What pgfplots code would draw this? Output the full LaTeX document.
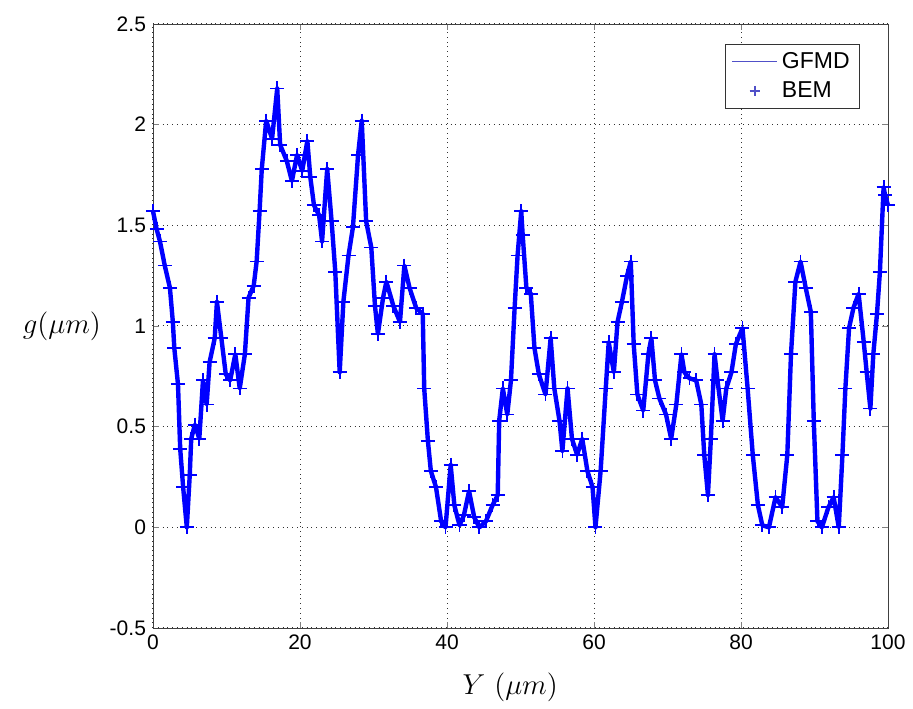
\documentclass[border=0pt]{standalone}
\usepackage{pgfplots}
\pgfplotsset{compat=1.18}
\usepackage{pgfplotstable}
\usepackage{fontspec}
\newfontfamily\arial{Liberation Sans}
\definecolor{legblue}{RGB}{80,80,200}
\pgfplotstableread{
x y
0 1.57
0.5 1.48
0.95 1.42
1.6 1.30
2.3 1.19
2.7 1.02
2.9 0.89
3.4 0.71
3.7 0.39
4.1 0.20
4.6 0.00
5.0 0.26
5.2 0.44
5.7 0.51
6.3 0.44
6.8 0.73
7.3 0.61
7.7 0.82
8.4 0.94
8.7 1.12
9.3 0.94
9.9 0.76
10.5 0.73
11.2 0.86
11.8 0.69
12.5 0.86
13.0 1.14
13.7 1.20
14.1 1.32
14.5 1.57
14.8 1.78
15.4 2.02
16.2 1.93
16.9 2.18
17.3 1.90
18.2 1.82
18.9 1.72
19.6 1.85
20.3 1.77
21.0 1.92
21.4 1.74
21.9 1.60
22.6 1.55
23.0 1.42
23.7 1.78
24.3 1.52
24.8 1.27
25.4 0.77
25.9 1.12
26.6 1.35
27.2 1.49
27.9 1.85
28.4 2.02
29.0 1.52
29.7 1.39
30.2 1.10
30.6 0.96
31.3 1.14
31.75 1.22
32.7 1.10
33.6 1.02
34.2 1.30
34.9 1.19
35.8 1.09
36.7 1.06
36.9 0.69
37.4 0.43
37.8 0.28
38.5 0.20
39.2 0.03
39.8 0.00
40.5 0.31
41.0 0.11
41.7 0.01
42.3 0.06
43.0 0.18
43.7 0.05
44.4 0.00
45.3 0.03
46.2 0.11
46.9 0.16
47.1 0.53
47.6 0.69
48.2 0.56
48.7 0.73
49.2 1.09
49.6 1.35
50.1 1.57
50.3 1.45
50.8 1.19
51.4 1.16
51.9 0.89
52.5 0.76
53.4 0.66
54.1 0.94
54.6 0.69
55.3 0.53
55.7 0.38
56.4 0.69
57.0 0.44
57.7 0.36
58.4 0.44
59.1 0.28
59.8 0.20
60.2 0.00
60.9 0.28
61.6 0.69
62.0 0.92
62.7 0.77
63.2 1.02
63.8 1.12
64.5 1.25
65.0 1.32
65.4 0.91
65.9 0.66
66.7 0.58
67.4 0.86
67.8 0.94
68.3 0.73
68.9 0.64
69.8 0.56
70.5 0.44
71.2 0.61
71.9 0.86
72.3 0.77
73.0 0.74
73.9 0.73
74.6 0.61
75.0 0.36
75.5 0.16
75.9 0.44
76.4 0.86
76.8 0.73
77.5 0.53
78.0 0.69
78.7 0.77
79.3 0.91
80.2 0.99
80.9 0.69
81.6 0.36
82.3 0.11
82.9 0.01
83.8 0.00
84.7 0.15
85.6 0.10
86.3 0.36
86.8 0.86
87.4 1.22
88.1 1.32
88.8 1.19
89.5 1.07
89.9 0.53
90.4 0.03
91.0 0.00
91.9 0.10
92.6 0.15
93.3 0.00
93.8 0.36
94.2 0.69
94.7 0.99
95.3 1.09
96.0 1.16
96.7 0.92
97.1 0.77
97.6 0.59
98.0 0.86
98.5 1.06
98.9 1.27
99.4 1.69
99.6 1.65
100 1.60
}\datatable
\begin{document}
\begin{tikzpicture}
\begin{axis}[
  scale only axis,
  width=367.5pt, height=302pt,
  xmin=0, xmax=100, ymin=-0.5, ymax=2.5,
  xtick={0,20,40,60,80,100},
  xticklabels={0,20,40,60,80,100},
  ytick={-0.5,0,0.5,1,1.5,2,2.5},
  yticklabels={-0.5,0,0.5,1,1.5,2,2.5},
  tick label style={font=\arial\fontsize{10.5}{12}\selectfont, black},
  tick align=inside,
  major tick length=3pt,
  axis line style={black!75},
  grid=major,
  major grid style={dotted, black!80, line width=0.5pt},
  clip=false,
  xlabel={$Y\ (\mu m)$},
  ylabel={$g(\mu m)$},
  label style={font=\fontsize{14}{16}\selectfont},
  xlabel style={at={(axis description cs:0.486,-0.099)}, anchor=center},
  ylabel style={at={(axis description cs:-0.124,0.5)}, rotate=-90, anchor=center},
  legend style={at={(axis description cs:0.962,0.967)}, anchor=north east,
    font=\arial\fontsize{11.5}{13}\selectfont, draw=black!80, inner xsep=3pt, inner ysep=2pt,
    row sep=1pt},
  legend cell align=left,
]
\addplot[blue, line width=2.2pt, no markers, line join=round,
  legend image code/.code={\draw[legblue, line width=0.6pt] (0cm,0cm) -- (0.8cm,0cm);}]
  table[x=x,y=y]{\datatable};
\addlegendentry{GFMD}
\addplot[blue, only marks, mark=+, mark size=3.5pt, mark options={line width=0.9pt},
  legend image code/.code={\draw[legblue, line width=0.5pt] plot[mark=+, mark size=2.5pt] coordinates {(0.4cm,0cm)};}]
  table[x=x,y=y]{\datatable};
\addlegendentry{BEM}
\path (rel axis cs:0,0) ++(-76.5pt,-39pt) coordinate (bbA);
\path (rel axis cs:1,1) ++(12.5pt,12pt) coordinate (bbB);
\end{axis}
\path (bbA) rectangle (bbB);
\end{tikzpicture}
\end{document}
